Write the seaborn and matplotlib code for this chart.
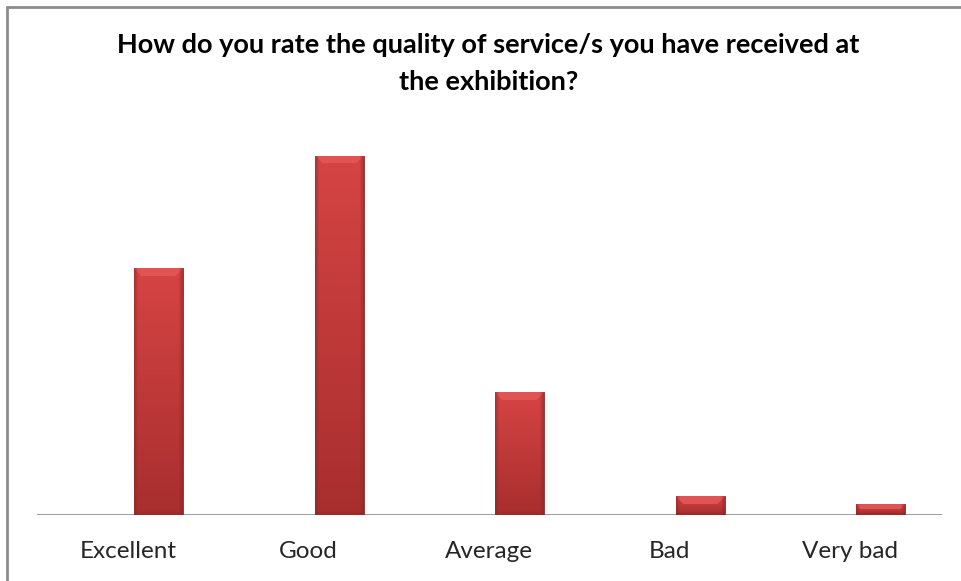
import numpy as np
import pandas as pd
import matplotlib
matplotlib.use("Agg")
import matplotlib.pyplot as plt
import seaborn as sns
from matplotlib.lines import Line2D

categories = ["Excellent", "Good", "Average", "Bad", "Very bad"]
values = [32.5, 47.4, 16.2, 2.5, 1.4]
title = "How do you rate the quality of service/s you have received at\nthe exhibition?"

sns.set_theme(style="white")
plt.rcParams['font.family'] = ['Lato', 'DejaVu Sans']

W, H = 961, 581
fig = plt.figure(figsize=(W / 100, H / 100), dpi=100)
fig.patch.set_facecolor("white")
ax_left, ax_right, ax_bottom, ax_top = 37, 942, 514.7, 135.8
ax = fig.add_axes([ax_left / W, 1 - ax_bottom / H, (ax_right - ax_left) / W, (ax_bottom - ax_top) / H])

df = pd.DataFrame({"cat": categories, "val": values})
sns.barplot(data=df, x="cat", y="val", ax=ax, color="#C43B3B", width=0.27,
            saturation=1, edgecolor="#8a2a2a", linewidth=0.6, zorder=3)
ax.set_xlim(-0.675, 4.34)
ax.set_ylim(0, 50)

# gradient / bevel shading clipped to each bar
px_per_unit_y = (ax_bottom - ax_top) / 50.0
top_c = np.array([214, 68, 68]) / 255
bot_c = np.array([168, 46, 46]) / 255
bevel_c = np.array([226, 84, 84]) / 255
edge_c = np.array([135, 38, 38]) / 255
for p in list(ax.patches):
    x0, y0, w, h = p.get_x(), p.get_y(), p.get_width(), p.get_height()
    hp = max(int(round(h * px_per_unit_y)), 3)
    wp = 49
    t = np.linspace(0, 1, hp)[:, None, None]
    img = top_c * (1 - t) + bot_c * t
    img = np.repeat(img, wp, axis=1)
    bev = min(8, hp // 2)
    for r in range(bev):
        img[r, r:wp - r] = bevel_c
    for c in range(4):
        f = (4 - c) / 4 * 0.55
        img[:, c] = img[:, c] * (1 - f) + edge_c * f
        img[:, wp - 1 - c] = img[:, wp - 1 - c] * (1 - f) + edge_c * f
    for r in range(min(4, hp)):
        f = (4 - r) / 4 * 0.45
        img[hp - 1 - r] = img[hp - 1 - r] * (1 - f) + edge_c * f
    im = ax.imshow(img, extent=[x0, x0 + w, y0, y0 + h], aspect="auto",
                   origin="upper", zorder=3.5, interpolation="bilinear")
    im.set_clip_path(p)

ax.set_xlim(-0.675, 4.34)
ax.set_ylim(0, 50)
for s in ax.spines.values():
    s.set_visible(False)
ax.axhline(0, color="#8c8c8c", lw=1.2, zorder=2)
ax.set_yticks([])
ax.set_xlabel("")
ax.set_ylabel("")
# category labels sit centred in their slots, left of the (offset) bars
ax.set_xticks(np.arange(len(categories)) - 0.172)
ax.set_xticklabels(categories)
ax.tick_params(axis="x", length=0, pad=19, labelsize=17.5, labelcolor="#262626")

fig.text(488.5 / W, 1 - 63.5 / H, title, ha="center", va="center",
         fontsize=19.5, fontweight="bold", color="black", linespacing=1.68)

# chart frame (top and left edges visible)
fig.add_artist(Line2D([7 / W, 7 / W], [0, 1 - 7 / H], color="#8c8c8c", lw=2))
fig.add_artist(Line2D([7 / W, 1], [1 - 7 / H, 1 - 7 / H], color="#8c8c8c", lw=2))

fig.savefig("out.png", dpi=100, facecolor="white")
